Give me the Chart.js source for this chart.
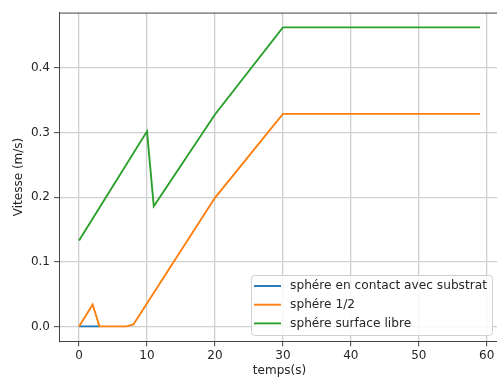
<!DOCTYPE html>
<html><head><meta charset="utf-8">
<script src="https://cdn.jsdelivr.net/npm/chart.js@4"></script>
<style>
html,body{margin:0;padding:0;overflow:hidden;background:#fff;width:497px;height:378px}
#wrap{width:504px;height:378px}
</style></head>
<body><div id="wrap"><canvas id="c" width="504" height="378"></canvas></div>
<script>
// ---- data ----
const seriesLabels = ["sphére en contact avec substrat", "sphére 1/2", "sphére surface libre"];
const tBlue = [0, 1, 2, 3];
const vBlue = [0, 0, 0, 0];
const tOrange = [0, 2, 3, 7, 8, 20, 30, 59];
const vOrange = [0, 0.034, 0, 0, 0.003, 0.199, 0.329, 0.329];
const tGreen = [0, 10, 11, 20, 30, 59];
const vGreen = [0.133, 0.302, 0.186, 0.328, 0.463, 0.463];
const xTicks = [0, 10, 20, 30, 40, 50, 60];
const yTicks = [0, 0.1, 0.2, 0.3, 0.4];
const xTitle = "temps(s)";
const yTitle = "Vitesse (m/s)";

const FONT = '"DejaVu Sans", sans-serif';
const TXT = '#262626';
const pts = (t, v) => t.map((x, i) => ({x: x, y: v[i]}));

const framePlugin = {
  id: 'frame',
  afterDatasetsDraw(chart) {
    const ctx = chart.ctx, ca = chart.chartArea;
    ctx.save();
    ctx.strokeStyle = '#444';
    ctx.lineWidth = 1;
    ctx.beginPath();
    ctx.moveTo(ca.left, ca.top + 0.5);
    ctx.lineTo(ca.right, ca.top + 0.5);
    ctx.moveTo(ca.right - 0.5, ca.top);
    ctx.lineTo(ca.right - 0.5, ca.bottom);
    ctx.stroke();
    ctx.restore();
  },
  afterDraw(chart) {
    const ctx = chart.ctx, ca = chart.chartArea;
    const ds = chart.data.datasets;
    ctx.save();
    ctx.font = '12.2px ' + FONT;
    const tw = Math.max(...ds.map(d => ctx.measureText(d.label).width));
    const w = 3 + 27 + 9 + tw + 5, h = 60;
    const right = ca.right - 8, bottom = ca.bottom - 6.3;
    const left = right - w, top = bottom - h;
    ctx.beginPath();
    ctx.roundRect(left + 0.5, top + 0.5, w, h, 3);
    ctx.fillStyle = 'rgba(255,255,255,0.85)';
    ctx.fill();
    ctx.strokeStyle = '#d0d0d0';
    ctx.lineWidth = 1;
    ctx.stroke();
    ds.forEach((d, i) => {
      const y = top + 11 + i * 18.7;
      ctx.beginPath();
      ctx.strokeStyle = d.borderColor;
      ctx.lineWidth = 1.9;
      ctx.moveTo(left + 3, y);
      ctx.lineTo(left + 30, y);
      ctx.stroke();
      ctx.fillStyle = TXT;
      ctx.textBaseline = 'middle';
      ctx.textAlign = 'left';
      ctx.fillText(d.label, left + 39, y);
    });
    ctx.restore();
  }
};

const colors = ['#1f77b4', '#ff7f0e', '#2ca02c'];
const series = [pts(tBlue, vBlue), pts(tOrange, vOrange), pts(tGreen, vGreen)];

new Chart(document.getElementById('c'), {
  type: 'line',
  data: {
    datasets: series.map((s, i) => ({
      label: seriesLabels[i],
      data: s,
      borderColor: colors[i],
      backgroundColor: colors[i],
      borderWidth: 1.9,
      pointRadius: 0,
      fill: false,
      tension: 0,
      order: 3 - i
    }))
  },
  options: {
    responsive: false,
    devicePixelRatio: 1,
    animation: false,
    layout: {padding: {left: 0, top: 12.6, right: 4, bottom: 0}},
    plugins: {legend: {display: false}, tooltip: {enabled: false}},
    scales: {
      x: {
        type: 'linear',
        min: -2.95, max: 61.95,
        afterBuildTicks: s => { s.ticks = xTicks.map(v => ({value: v})); },
        afterFit: s => { s.height = 36.7; },
        ticks: {color: TXT, font: {family: FONT, size: 12}, padding: 2, maxRotation: 0,
                callback: v => String(v)},
        grid: {color: '#cfcfcf', lineWidth: 1.3, tickLength: 5, tickColor: '#444', tickWidth: 1},
        border: {color: '#444', width: 1},
        title: {display: true, text: xTitle, color: TXT, font: {family: FONT, size: 12},
                padding: {top: 0, bottom: 0}}
      },
      y: {
        type: 'linear',
        min: -0.0231, max: 0.4858,
        afterBuildTicks: s => { s.ticks = yTicks.map(v => ({value: v})); },
        afterFit: s => { s.width = 59; },
        ticks: {color: TXT, font: {family: FONT, size: 12}, padding: 4,
                callback: v => Number(v).toFixed(1)},
        grid: {color: '#cfcfcf', lineWidth: 1.3, tickLength: 5, tickColor: '#444', tickWidth: 1},
        border: {color: '#444', width: 1},
        title: {display: true, text: yTitle, color: TXT, font: {family: FONT, size: 12},
                padding: {top: 11.5, bottom: 0}}
      }
    }
  },
  plugins: [framePlugin]
});
</script>
</body></html>
